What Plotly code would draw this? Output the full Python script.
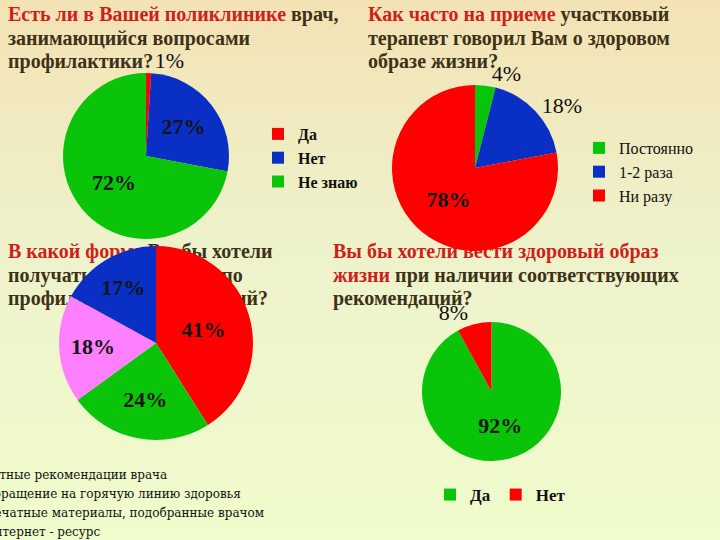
import plotly.graph_objects as go

W, H = 720, 540

# ---------------- data ----------------
q1_labels = ["Да", "Нет", "Не знаю"]
q1_values = [1, 27, 72]
q1_colors = ["#ff0000", "#0a2fc4", "#0ac40a"]

q2_labels = ["Постоянно", "1-2 раза", "Ни разу"]
q2_values = [4, 18, 78]
q2_colors = ["#0ac40a", "#0a2fc4", "#ff0000"]

q3_labels = ["Устные рекомендации врача",
             "Обращение на горячую линию здоровья",
             "Печатные материалы, подобранные врачом",
             "Интернет - ресурс"]
q3_values = [41, 24, 18, 17]
q3_colors = ["#ff0000", "#0ac40a", "#ff80ff", "#0a2fc4"]

q4_labels = ["Да", "Нет"]
q4_values = [92, 8]
q4_colors = ["#0ac40a", "#ff0000"]

RED = "#cf1f1a"
DARK = "#3d3218"

def r(t):
    return f"<span style='color:{RED}'>{t}</span>"

q1_title = [r("Есть ли в Вашей поликлинике") + " врач,",
            "занимающийся вопросами",
            "профилактики?"]
q2_title = [r("Как часто на приеме") + " участковый",
            "терапевт говорил Вам о здоровом",
            "образе жизни?"]
q3_title = [r("В какой форме") + " Вы бы хотели",
            "получать информацию по",
            "профилактике заболеваний?"]
q4_title = [r("Вы бы хотели вести здоровый образ"),
            r("жизни") + " при наличии соответствующих",
            "рекомендаций?"]

SERIF = "Liberation Serif, serif"

fig = go.Figure()

# background gradient
fig.add_trace(go.Scatter(
    x=[0, W, W, 0, 0], y=[0, 0, H, H, 0], mode="lines", fill="toself",
    line=dict(width=0), hoverinfo="skip", showlegend=False,
    fillgradient=dict(type="vertical",
                      colorscale=[[0, "#f0fccc"], [0.55, "#eef2cb"], [1, "#f3e2b4"]]),
))

# titles (drawn under the pies)
def add_title(lines, x0, y0):
    ys = [y0 + i * 23.5 for i in range(len(lines))]
    fig.add_trace(go.Scatter(
        x=[x0] * len(lines), y=ys, mode="text",
        text=[f"<b>{t}</b>" for t in lines], textposition="middle right",
        textfont=dict(family=SERIF, size=20, color=DARK),
        hoverinfo="skip", showlegend=False,
    ))

add_title(q1_title, 8, 16)
add_title(q2_title, 368, 16)
add_title(q3_title, 8, 253)
add_title(q4_title, 333, 253)

def dom(x0, x1, y0, y1):
    return dict(x=[x0 / W, x1 / W], y=[1 - y1 / H, 1 - y0 / H])

inside_font = dict(family=SERIF, size=22, color="#151515", weight="bold")
outside_font = dict(family=SERIF, size=22, color="#111111")

def add_pie(labels, values, colors, domain, textpos, legend):
    fig.add_trace(go.Pie(
        labels=labels, values=values, sort=False, direction="clockwise",
        rotation=0, marker=dict(colors=colors, line=dict(width=0)),
        texttemplate="%{value}%", textposition=textpos,
        insidetextfont=inside_font, outsidetextfont=outside_font,
        insidetextorientation="horizontal",
        domain=domain, legend=legend, legendgroup=legend,
        hoverinfo="label+value",
    ))

add_pie(q1_labels, q1_values, q1_colors, dom(63, 229, 73, 239),
        ["outside", "inside", "inside"], "legend")
add_pie(q2_labels, q2_values, q2_colors, dom(392, 558, 85, 251),
        ["outside", "outside", "inside"], "legend2")
add_pie(q3_labels, q3_values, q3_colors, dom(59, 253, 246, 440),
        "inside", "legend3")
add_pie(q4_labels, q4_values, q4_colors, dom(422, 561, 322, 461),
        ["inside", "outside"], "legend4")

leg_common = dict(bgcolor="rgba(0,0,0,0)", itemwidth=30, tracegroupgap=0,
                  traceorder="normal", itemclick=False, itemdoubleclick=False)

fig.update_layout(
    width=W, height=H, margin=dict(l=0, r=0, t=0, b=0, autoexpand=False),
    font=dict(family=SERIF),
    paper_bgcolor="#f1efc6", plot_bgcolor="rgba(0,0,0,0)",
    xaxis=dict(range=[0, W], visible=False, fixedrange=True),
    yaxis=dict(range=[H, 0], visible=False, fixedrange=True),
    legend=dict(x=258 / W, y=1 - 117 / H, xanchor="left", yanchor="top",
                font=dict(family=SERIF, size=16, color="#111", weight="bold"), **leg_common),
    legend2=dict(x=579 / W, y=1 - 131 / H, xanchor="left", yanchor="top",
                 font=dict(family=SERIF, size=16, color="#111"), **leg_common),
    legend3=dict(x=-56 / W, y=1 - 460 / H, xanchor="left", yanchor="top",
                 font=dict(family="DejaVu Serif, serif", size=12, color="#111"), **leg_common),
    legend4=dict(x=430 / W, y=1 - 477 / H, xanchor="left", yanchor="top",
                 orientation="h",
                 font=dict(family=SERIF, size=17, color="#111", weight="bold"), **leg_common),
    showlegend=True,
)

fig.write_html("out.html")
